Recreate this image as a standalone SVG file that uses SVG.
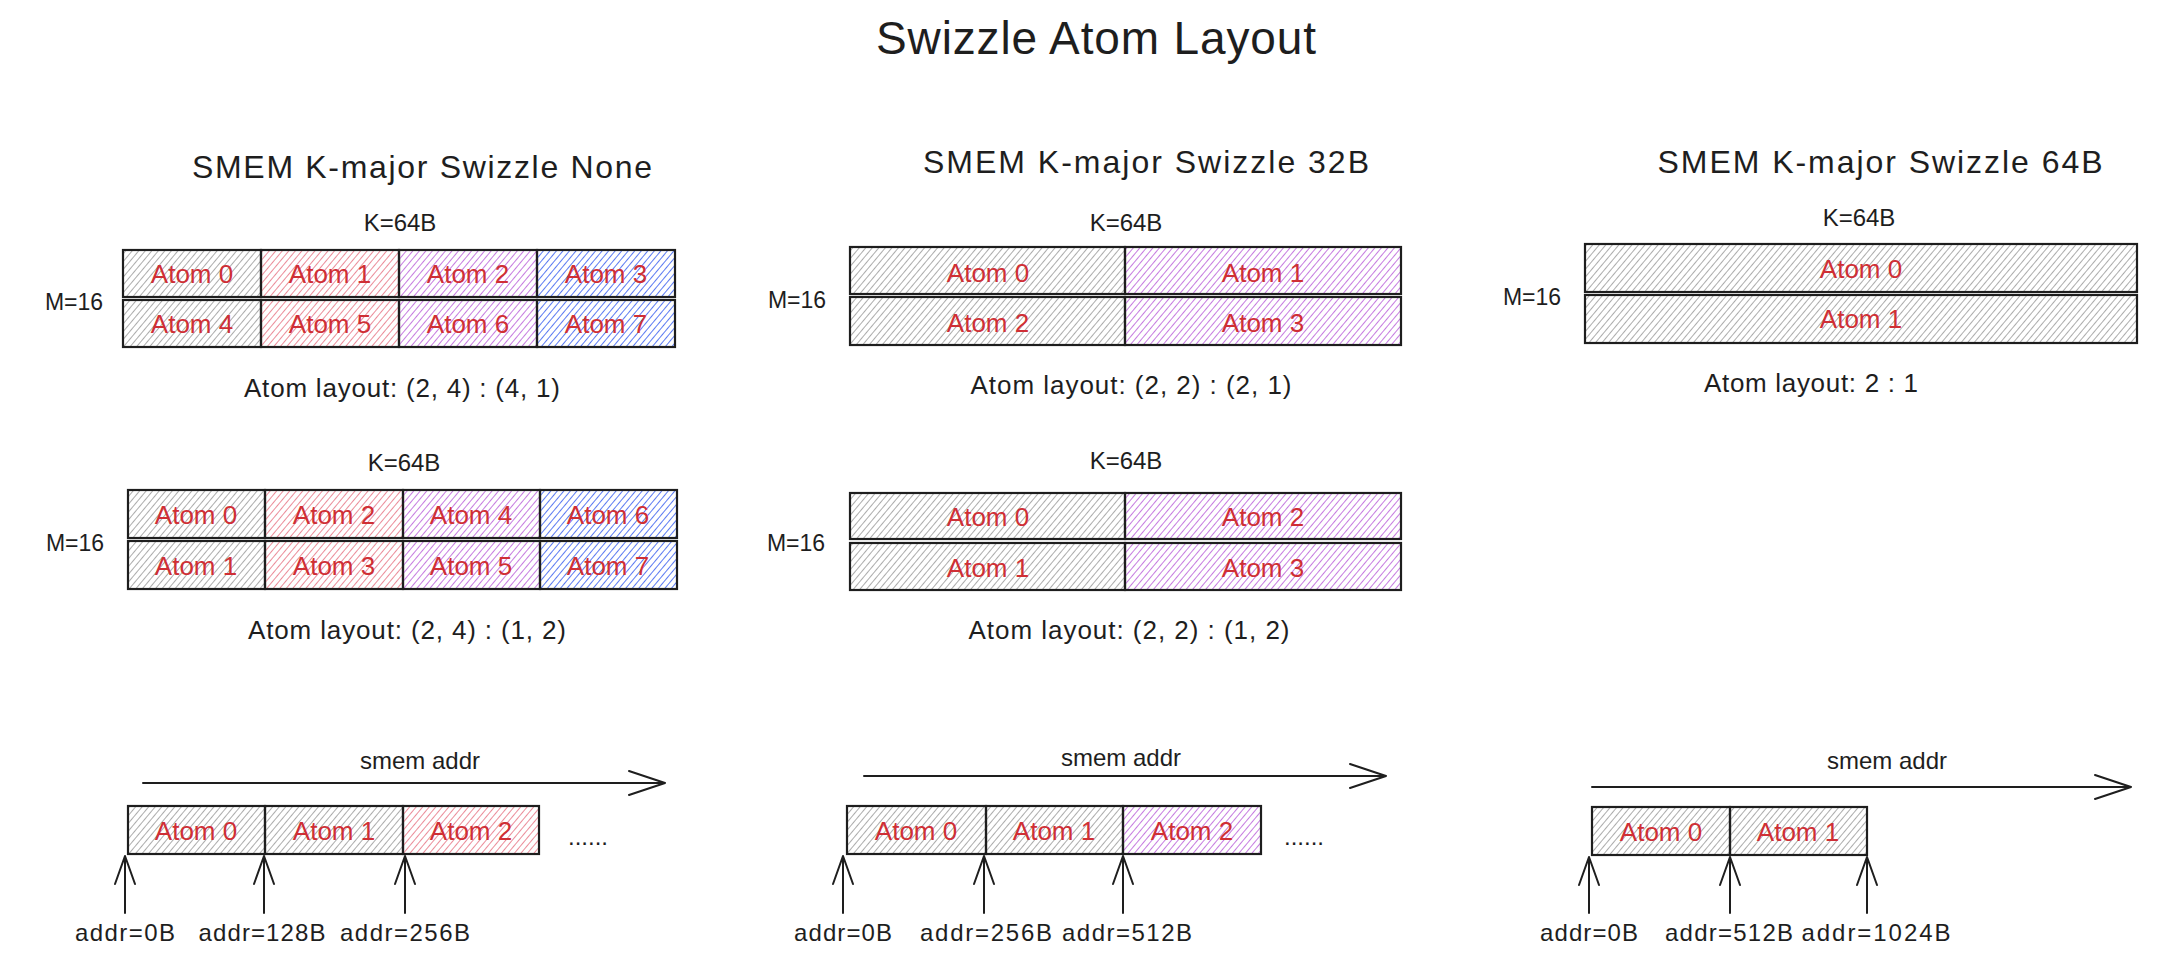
<svg xmlns="http://www.w3.org/2000/svg" width="2184" height="980" viewBox="0 0 2184 980">
<defs>
<pattern id="hg" patternUnits="userSpaceOnUse" width="5" height="10" patternTransform="rotate(40)"><line x1="2.5" y1="0" x2="2.5" y2="10" stroke="#a3a3a3" stroke-width="0.9"/></pattern>
<pattern id="hr" patternUnits="userSpaceOnUse" width="5" height="10" patternTransform="rotate(40)"><line x1="2.5" y1="0" x2="2.5" y2="10" stroke="#e9808f" stroke-width="0.9"/></pattern>
<pattern id="hp" patternUnits="userSpaceOnUse" width="5" height="10" patternTransform="rotate(40)"><line x1="2.5" y1="0" x2="2.5" y2="10" stroke="#c06ddc" stroke-width="0.9"/></pattern>
<pattern id="hb" patternUnits="userSpaceOnUse" width="5" height="10" patternTransform="rotate(40)"><line x1="2.5" y1="0" x2="2.5" y2="10" stroke="#4a6cf0" stroke-width="0.9"/></pattern>
</defs>
<style>
text { font-family: "Liberation Sans", Arial, sans-serif; fill: #1e1e1e; text-anchor: middle; }
.title { font-size: 46px; }
.sec { font-size: 32px; }
.lbl { font-size: 24px; }
.m { font-size: 23px; }
.lay { font-size: 26px; }
.atom { font-size: 26px; fill: #cf2f35; }
.box { stroke: #1e1e1e; stroke-width: 2.2; }
.g { fill: url(#hg); }
.r { fill: url(#hr); }
.p { fill: url(#hp); }
.b { fill: url(#hb); }
.conn { stroke: #1e1e1e; stroke-width: 2; fill: none; stroke-linecap: round; stroke-linejoin: round; }
</style>
<rect width="2184" height="980" fill="#ffffff"/>

<g id="title"><text class="title" x="1096" y="54" textLength="440" lengthAdjust="spacing">Swizzle Atom Layout</text></g>
<g id="sec-none"><text class="sec" x="422" y="178" textLength="460" lengthAdjust="spacing">SMEM K-major Swizzle None</text></g>
<g id="sec-32"><text class="sec" x="1146" y="173" textLength="446" lengthAdjust="spacing">SMEM K-major Swizzle 32B</text></g>
<g id="sec-64"><text class="sec" x="1880" y="173" textLength="445" lengthAdjust="spacing">SMEM K-major Swizzle 64B</text></g>

<!-- Grid 1: None, (2,4):(4,1) -->
<g id="grid-none-a">
<text class="lbl" x="400" y="231">K=64B</text>
<text class="m" x="74" y="310">M=16</text>
<rect class="box g" x="123" y="250" width="138" height="47"/>
<rect class="box r" x="261" y="250" width="138" height="47"/>
<rect class="box p" x="399" y="250" width="138" height="47"/>
<rect class="box b" x="537" y="250" width="138" height="47"/>
<rect class="box g" x="123" y="300" width="138" height="47"/>
<rect class="box r" x="261" y="300" width="138" height="47"/>
<rect class="box p" x="399" y="300" width="138" height="47"/>
<rect class="box b" x="537" y="300" width="138" height="47"/>
<text class="atom" x="192" y="283">Atom 0</text>
<text class="atom" x="330" y="283">Atom 1</text>
<text class="atom" x="468" y="283">Atom 2</text>
<text class="atom" x="606" y="283">Atom 3</text>
<text class="atom" x="192" y="333">Atom 4</text>
<text class="atom" x="330" y="333">Atom 5</text>
<text class="atom" x="468" y="333">Atom 6</text>
<text class="atom" x="606" y="333">Atom 7</text>
<text class="lay" x="402" y="397" textLength="316" lengthAdjust="spacing">Atom layout: (2, 4) : (4, 1)</text>
</g>

<!-- Grid 2: None, (2,4):(1,2) -->
<g id="grid-none-b">
<text class="lbl" x="404" y="471">K=64B</text>
<text class="m" x="75" y="551">M=16</text>
<rect class="box g" x="128" y="490" width="137" height="48"/>
<rect class="box r" x="265" y="490" width="138" height="48"/>
<rect class="box p" x="403" y="490" width="137" height="48"/>
<rect class="box b" x="540" y="490" width="137" height="48"/>
<rect class="box g" x="128" y="541" width="137" height="48"/>
<rect class="box r" x="265" y="541" width="138" height="48"/>
<rect class="box p" x="403" y="541" width="137" height="48"/>
<rect class="box b" x="540" y="541" width="137" height="48"/>
<text class="atom" x="196" y="524">Atom 0</text>
<text class="atom" x="334" y="524">Atom 2</text>
<text class="atom" x="471" y="524">Atom 4</text>
<text class="atom" x="608" y="524">Atom 6</text>
<text class="atom" x="196" y="575">Atom 1</text>
<text class="atom" x="334" y="575">Atom 3</text>
<text class="atom" x="471" y="575">Atom 5</text>
<text class="atom" x="608" y="575">Atom 7</text>
<text class="lay" x="407" y="639" textLength="318" lengthAdjust="spacing">Atom layout: (2, 4) : (1, 2)</text>
</g>

<!-- Grid 3: 32B, (2,2):(2,1) -->
<g id="grid-32-a">
<text class="lbl" x="1126" y="231">K=64B</text>
<text class="m" x="797" y="308">M=16</text>
<rect class="box g" x="850" y="247" width="275" height="47"/>
<rect class="box p" x="1125" y="247" width="276" height="47"/>
<rect class="box g" x="850" y="297" width="275" height="48"/>
<rect class="box p" x="1125" y="297" width="276" height="48"/>
<text class="atom" x="988" y="282">Atom 0</text>
<text class="atom" x="1263" y="282">Atom 1</text>
<text class="atom" x="988" y="332">Atom 2</text>
<text class="atom" x="1263" y="332">Atom 3</text>
<text class="lay" x="1131" y="394" textLength="321" lengthAdjust="spacing">Atom layout: (2, 2) : (2, 1)</text>
</g>

<!-- Grid 4: 32B, (2,2):(1,2) -->
<g id="grid-32-b">
<text class="lbl" x="1126" y="469">K=64B</text>
<text class="m" x="796" y="551">M=16</text>
<rect class="box g" x="850" y="493" width="275" height="46"/>
<rect class="box p" x="1125" y="493" width="276" height="46"/>
<rect class="box g" x="850" y="543" width="275" height="47"/>
<rect class="box p" x="1125" y="543" width="276" height="47"/>
<text class="atom" x="988" y="526">Atom 0</text>
<text class="atom" x="1263" y="526">Atom 2</text>
<text class="atom" x="988" y="577">Atom 1</text>
<text class="atom" x="1263" y="577">Atom 3</text>
<text class="lay" x="1129" y="639" textLength="321" lengthAdjust="spacing">Atom layout: (2, 2) : (1, 2)</text>
</g>

<!-- Grid 5: 64B, 2:1 -->
<g id="grid-64">
<text class="lbl" x="1859" y="226">K=64B</text>
<text class="m" x="1532" y="305">M=16</text>
<rect class="box g" x="1585" y="244" width="552" height="48"/>
<rect class="box g" x="1585" y="295" width="552" height="48"/>
<text class="atom" x="1861" y="278">Atom 0</text>
<text class="atom" x="1861" y="328">Atom 1</text>
<text class="lay" x="1811" y="392" textLength="214" lengthAdjust="spacing">Atom layout: 2 : 1</text>
</g>

<!-- Bottom memory rows -->
<g id="mem-none">
<text class="lbl" x="420" y="769">smem addr</text>
<rect class="box g" x="128" y="806" width="137" height="48"/>
<rect class="box g" x="265" y="806" width="138" height="48"/>
<rect class="box r" x="403" y="806" width="136" height="48"/>
<text class="atom" x="196" y="840">Atom 0</text>
<text class="atom" x="334" y="840">Atom 1</text>
<text class="atom" x="471" y="840">Atom 2</text>
<text class="lbl" x="588" y="845">......</text>
<text class="lbl" x="125" y="941" textLength="100" lengthAdjust="spacing">addr=0B</text>
<text class="lbl" x="262" y="941" textLength="127" lengthAdjust="spacing">addr=128B</text>
<text class="lbl" x="405" y="941" textLength="130" lengthAdjust="spacing">addr=256B</text>
</g>

<g id="mem-32">
<text class="lbl" x="1121" y="766">smem addr</text>
<rect class="box g" x="847" y="806" width="139" height="48"/>
<rect class="box g" x="986" y="806" width="137" height="48"/>
<rect class="box p" x="1123" y="806" width="138" height="48"/>
<text class="atom" x="916" y="840">Atom 0</text>
<text class="atom" x="1054" y="840">Atom 1</text>
<text class="atom" x="1192" y="840">Atom 2</text>
<text class="lbl" x="1304" y="845">......</text>
<text class="lbl" x="843" y="941" textLength="98" lengthAdjust="spacing">addr=0B</text>
<text class="lbl" x="986" y="941" textLength="132" lengthAdjust="spacing">addr=256B</text>
<text class="lbl" x="1127" y="941" textLength="130" lengthAdjust="spacing">addr=512B</text>
</g>

<g id="mem-64">
<text class="lbl" x="1887" y="769">smem addr</text>
<rect class="box g" x="1592" y="807" width="138" height="48"/>
<rect class="box g" x="1730" y="807" width="137" height="48"/>
<text class="atom" x="1661" y="841">Atom 0</text>
<text class="atom" x="1798" y="841">Atom 1</text>
<text class="lbl" x="1589" y="941" textLength="98" lengthAdjust="spacing">addr=0B</text>
<text class="lbl" x="1729" y="941" textLength="128" lengthAdjust="spacing">addr=512B</text>
<text class="lbl" x="1876" y="941" textLength="149" lengthAdjust="spacing">addr=1024B</text>
</g>

<g id="connectors">
<path class="conn" d="M143 783 L665 783 M629 771 L665 783 L629 795"/>
<path class="conn" d="M864 776 L1386 776 M1350 764 L1386 776 L1350 788"/>
<path class="conn" d="M1592 787 L2131 787 M2095 775 L2131 787 L2095 799"/>
<path class="conn" d="M125 913 L125 856 M115 884 L125 856 L135 884"/>
<path class="conn" d="M264 913 L264 856 M254 884 L264 856 L274 884"/>
<path class="conn" d="M405 913 L405 856 M395 884 L405 856 L415 884"/>
<path class="conn" d="M843 913 L843 856 M833 884 L843 856 L853 884"/>
<path class="conn" d="M984 913 L984 856 M974 884 L984 856 L994 884"/>
<path class="conn" d="M1123 913 L1123 856 M1113 884 L1123 856 L1133 884"/>
<path class="conn" d="M1589 913 L1589 857 M1579 885 L1589 857 L1599 885"/>
<path class="conn" d="M1730 913 L1730 857 M1720 885 L1730 857 L1740 885"/>
<path class="conn" d="M1867 913 L1867 857 M1857 885 L1867 857 L1877 885"/>
</g>
</svg>
